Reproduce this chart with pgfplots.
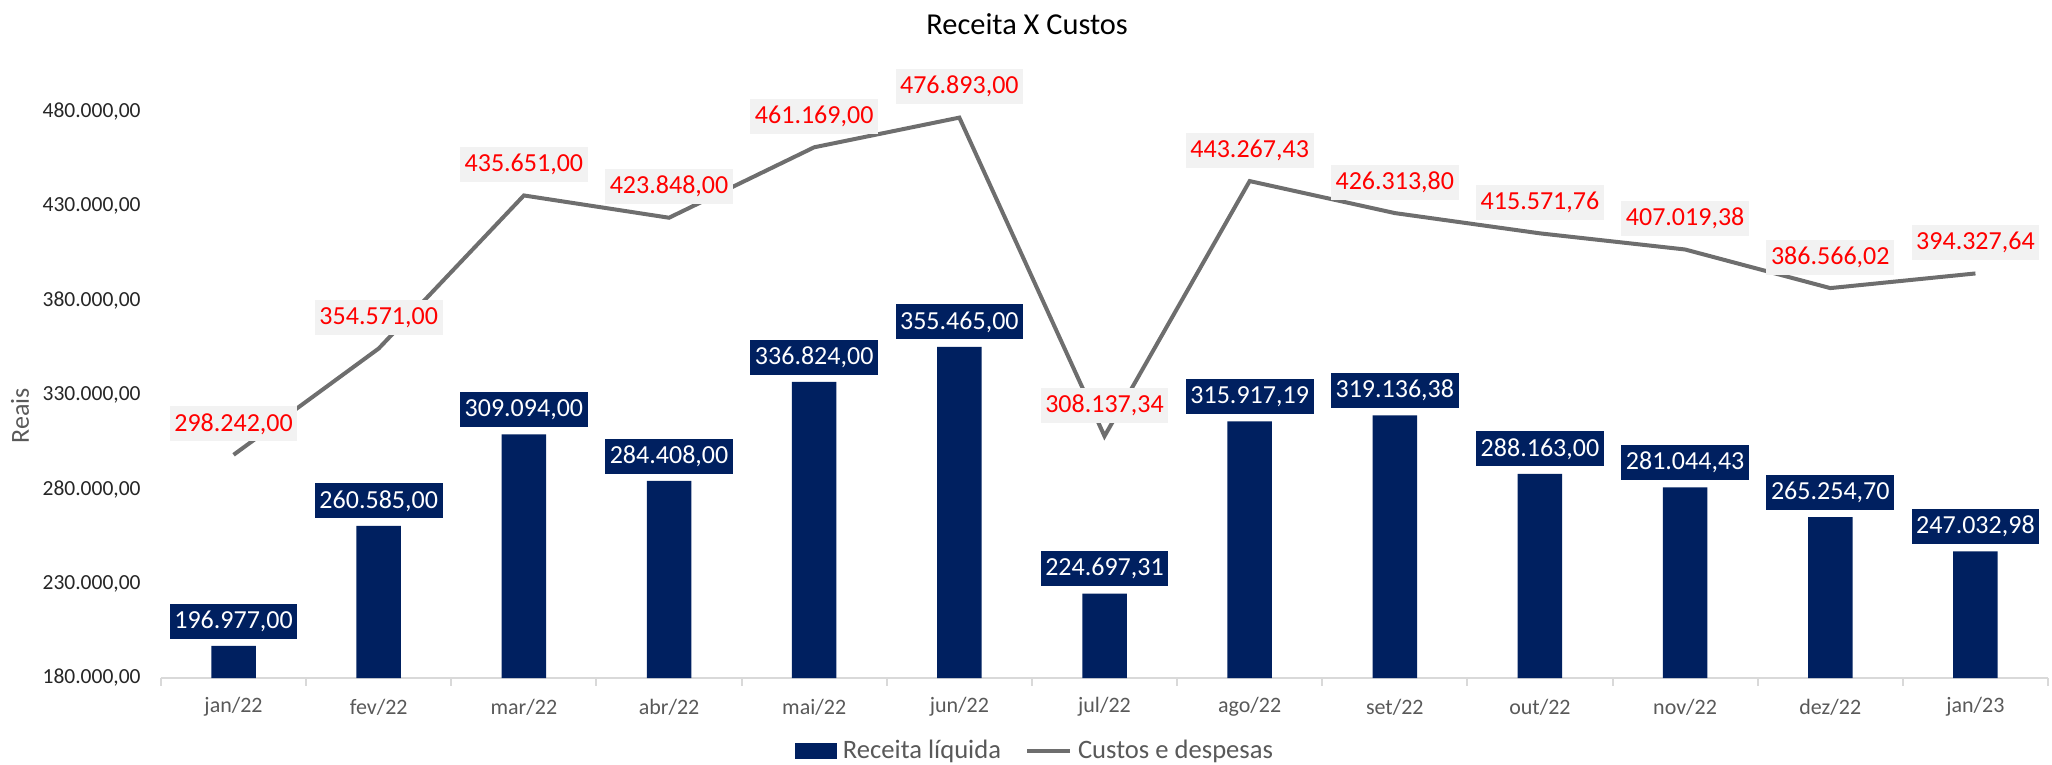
\documentclass[border=0pt]{standalone}
\usepackage{fontspec}
\setmainfont{Carlito}
\usepackage{pgfplots}
\pgfplotsset{compat=1.18}
\usepackage{pgfplotstable}
\definecolor{navy}{HTML}{002060}
\definecolor{linegray}{HTML}{6E6E6E}
\definecolor{lblbg}{HTML}{F2F2F2}
\definecolor{axgray}{HTML}{D9D9D9}
\definecolor{txtgray}{HTML}{595959}
\definecolor{lblred}{HTML}{FF0000}

\pgfplotstableread{
x rec reclbl
0  196977.00 196.977,00
1  260585.00 260.585,00
2  309094.00 309.094,00
3  284408.00 284.408,00
4  336824.00 336.824,00
5  355465.00 355.465,00
6  224697.31 224.697,31
7  315917.19 315.917,19
8  319136.38 319.136,38
9  288163.00 288.163,00
10 281044.43 281.044,43
11 265254.70 265.254,70
12 247032.98 247.032,98
}\receita

\pgfplotstableread{
x cus cuslbl
0  298242.00 298.242,00
1  354571.00 354.571,00
2  435651.00 435.651,00
3  423848.00 423.848,00
4  461169.00 461.169,00
5  476893.00 476.893,00
6  308137.34 308.137,34
7  443267.43 443.267,43
8  426313.80 426.313,80
9  415571.76 415.571,76
10 407019.38 407.019,38
11 386566.02 386.566,02
12 394327.64 394.327,64
}\custos

\begin{document}
\begin{tikzpicture}
\useasboundingbox (-80.5bp,-43.5bp) rectangle (945.5bp,339bp);
\begin{axis}[
  name=ax,
  scale only axis,
  width=943.5bp, height=302bp,
  xmin=-0.5, xmax=12.5,
  ymin=180000, ymax=500000,
  axis x line*=bottom,
  axis y line*=left,
  x axis line style={draw=axgray, line width=1bp, -},
  y axis line style={draw=none},
  xtick={0,1,2,3,4,5,6,7,8,9,10,11,12},
  xticklabels={jan/22,fev/22,mar/22,abr/22,mai/22,jun/22,jul/22,ago/22,set/22,out/22,nov/22,dez/22,jan/23},
  minor xtick={-0.5,0.5,1.5,2.5,3.5,4.5,5.5,6.5,7.5,8.5,9.5,10.5,11.5,12.5},
  ytick={180000,230000,280000,330000,380000,430000,480000},
  yticklabels={{180.000,00},{230.000,00},{280.000,00},{330.000,00},{380.000,00},{430.000,00},{480.000,00}},
  scaled y ticks=false,
  major tick length=0pt,
  minor tick length=4bp,
  tick align=outside,
  minor x tick style={draw=axgray, line width=1bp},
  major x tick style={draw=none},
  ytick style={draw=none},
  xticklabel style={font=\fontsize{11bp}{13bp}\selectfont, text=txtgray, anchor=center, yshift=-14.5bp},
  yticklabel style={font=\fontsize{10.75bp}{13bp}\selectfont, text=black!85, anchor=east, inner sep=0pt, xshift=-10bp},
  title={Receita X Custos},
  title style={font=\fontsize{15.2bp}{18bp}\selectfont, text=black, at={(axis description cs:0.459,1.062)}, anchor=center},
  ylabel={Reais},
  ylabel style={font=\fontsize{13bp}{15bp}\selectfont, text=txtgray, at={(axis description cs:-0.0747,0.434)}, anchor=center, rotate=0},
  legend columns=2,
  legend style={at={(axis description cs:0.4637,-0.121)}, anchor=center, draw=none, fill=none,
    font=\fontsize{13.3bp}{15bp}\selectfont, text=txtgray,
    /tikz/every odd column/.append style={column sep=1bp},
    /tikz/every even column/.append style={column sep=10bp}},
  clip=false,
]
\addplot[
  ybar, bar width=22.25bp, fill=navy, draw=none,
  point meta=explicit symbolic,
  nodes near coords,
  every node near coord/.append style={
    anchor=south, yshift=3.5bp, fill=navy, text=white,
    font=\fontsize{13bp}{15bp}\selectfont,
    inner xsep=2.3bp, inner ysep=0pt, minimum height=17.5bp},
  legend image code/.code={\fill[navy] (0bp,-4bp) rectangle (21bp,4bp);},
] table[x=x, y=rec, meta=reclbl] {\receita};
\addlegendentry{Receita líquida}
\addplot[
  linegray, line width=2bp, mark=none,
  point meta=explicit symbolic,
  nodes near coords,
  every node near coord/.append style={
    anchor=center, yshift=15.5bp, fill=lblbg, text=lblred,
    font=\fontsize{13bp}{15bp}\selectfont,
    inner xsep=2.3bp, inner ysep=0pt, minimum height=17.5bp},
  legend image code/.code={\draw[linegray, line width=2bp] (0bp,0bp) -- (21.5bp,0bp);},
] table[x=x, y=cus, meta=cuslbl] {\custos};
\addlegendentry{Custos e despesas}
\end{axis}
\end{tikzpicture}
\end{document}
